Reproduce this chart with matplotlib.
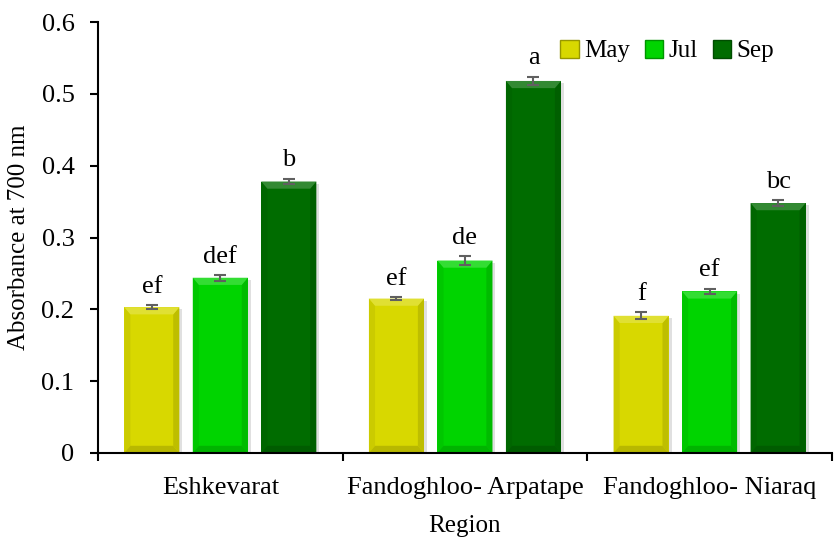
import numpy as np
import matplotlib.pyplot as plt
from matplotlib.patches import Polygon, Rectangle
from matplotlib.ticker import FixedLocator
from matplotlib.colors import to_rgb

regions = ["Eshkevarat", "Fandoghloo- Arpatape", "Fandoghloo- Niaraq"]
months = ["May", "Jul", "Sep"]
may = [0.203, 0.215, 0.191]
jul = [0.244, 0.268, 0.225]
sep = [0.378, 0.518, 0.348]
may_err = [0.003, 0.002, 0.005]
jul_err = [0.004, 0.006, 0.004]
sep_err = [0.004, 0.006, 0.004]
may_txt = ["ef", "ef", "f"]
jul_txt = ["def", "de", "ef"]
sep_txt = ["b", "a", "bc"]

plt.rcParams["font.family"] = ["Liberation Serif", "DejaVu Serif"]


def shade(c, f):
    r, g, b = to_rgb(c)
    if f > 1:
        return tuple(v + (1 - v) * (f - 1) for v in (r, g, b))
    return tuple(v * f for v in (r, g, b))


def bevel_bar(ax, xc, h, w, color):
    # excel style bevelled bar, bevel sizes in data units
    bx, by = 0.025, 0.01
    x0, x1 = xc - w / 2, xc + w / 2
    ax.add_patch(Rectangle((x0 + 0.012, 0), w, h - 0.003, color="#e0e0e0", lw=0, zorder=1))
    ax.add_patch(Rectangle((x0, 0), w, h, color=color, lw=0, zorder=2))
    top = [(x0, h), (x1, h), (x1 - bx, h - by), (x0 + bx, h - by)]
    bot = [(x0, 0), (x1, 0), (x1 - bx, by), (x0 + bx, by)]
    left = [(x0, 0), (x0, h), (x0 + bx, h - by), (x0 + bx, by)]
    right = [(x1, 0), (x1, h), (x1 - bx, h - by), (x1 - bx, by)]
    ax.add_patch(Polygon(left, color=shade(color, 0.94), lw=0, zorder=2))
    ax.add_patch(Polygon(right, color=shade(color, 0.88), lw=0, zorder=2))
    ax.add_patch(Polygon(bot, color=shade(color, 0.85), lw=0, zorder=2))
    ax.add_patch(Polygon(top, color=shade(color, 1.2), lw=0, zorder=2))


fig = plt.figure(figsize=(8.34, 5.38), dpi=100)
ax = fig.add_axes([0.1175, 0.158, 0.88, 0.801])

x = np.arange(len(regions))
step = 0.28
width = 0.225
colors = ["#d8d800", "#00d400", "#006c00"]
series = [(may, may_err, may_txt), (jul, jul_err, jul_txt), (sep, sep_err, sep_txt)]

for i, (vals, errs, txts) in enumerate(series):
    pos = x + (i - 1) * step
    for p, v in zip(pos, vals):
        bevel_bar(ax, p, v, width, colors[i])
    ax.errorbar(pos, vals, yerr=errs, fmt="none", ecolor="#606060", elinewidth=1.5,
                capsize=4, capthick=1.5, zorder=3)
    for p, v, e, t in zip(pos, vals, errs, txts):
        ax.text(p, v + e + 0.01, t, ha="center", va="bottom", fontsize=19)
    ax.bar([0], [0], color=colors[i], edgecolor=shade(colors[i], 0.7), lw=1,
           label=months[i])

ax.set_xlim(-0.5, 2.5)
ax.set_ylim(0, 0.6)
ax.set_yticks(np.arange(0, 0.61, 0.1))
ax.set_yticklabels(["0", "0.1", "0.2", "0.3", "0.4", "0.5", "0.6"])
ax.xaxis.set_major_locator(FixedLocator([-0.5, 0.5, 1.5, 2.5]))
ax.xaxis.set_minor_locator(FixedLocator(x))
ax.set_xticklabels([], minor=False)
ax.set_xticklabels(regions, minor=True)
ax.tick_params(axis="x", which="major", length=6, width=1.5, direction="out")
ax.tick_params(axis="x", which="minor", length=0, pad=17, labelsize=19)
ax.tick_params(axis="y", length=6, width=1.5, direction="out", labelsize=19, pad=11)

for side in ["top", "right"]:
    ax.spines[side].set_visible(False)
ax.spines["left"].set_linewidth(1.5)
ax.spines["bottom"].set_linewidth(1.5)

ax.set_ylabel("Absorbance at 700 nm", fontsize=18, labelpad=8)
ax.set_xlabel("Region", fontsize=18, labelpad=12)

ax.legend(loc="upper right", bbox_to_anchor=(0.945, 1.0), ncol=3, frameon=False,
          fontsize=18, handlelength=0.75, handleheight=0.75, handletextpad=0.2,
          columnspacing=0.6, borderpad=0.2)

fig.savefig("out.png", dpi=100)
